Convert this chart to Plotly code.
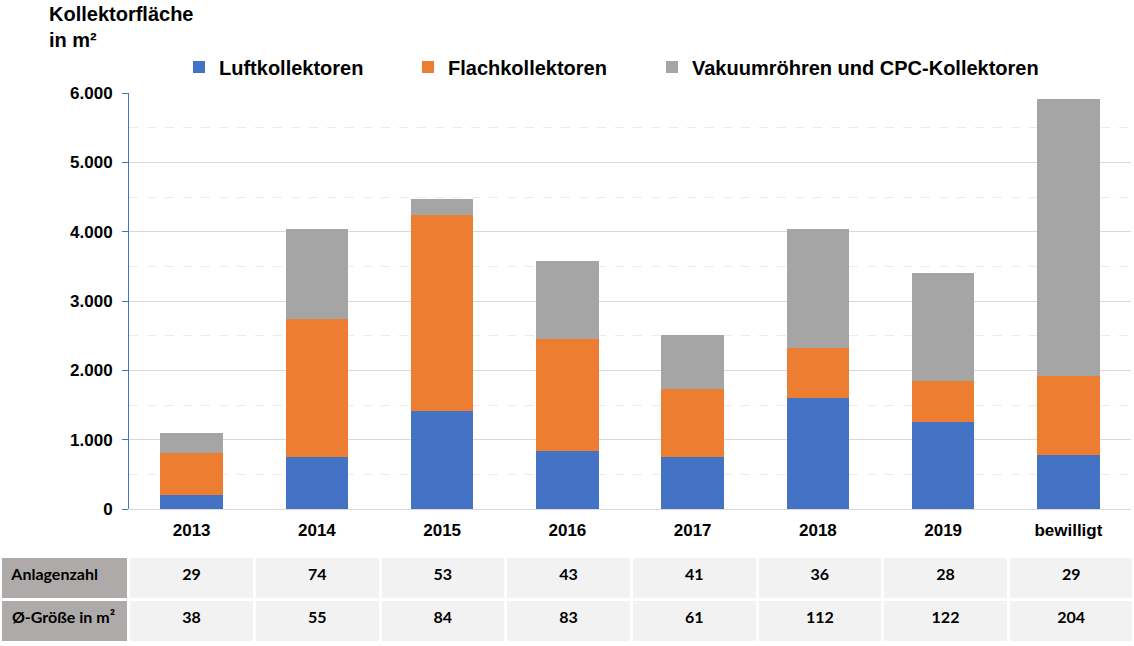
import plotly.graph_objects as go

# Daten
jahre = ["2013", "2014", "2015", "2016", "2017", "2018", "2019", "bewilligt"]
luft = [195, 745, 1410, 840, 745, 1605, 1260, 780]
flach = [615, 2000, 2825, 1615, 985, 720, 590, 1140]
vakuum = [290, 1300, 240, 1125, 785, 1715, 1560, 3995]

anlagenzahl = [29, 74, 53, 43, 41, 36, 28, 29]
groesse = [38, 55, 84, 83, 61, 112, 122, 204]
zeilen = ["Anlagenzahl", "Ø-Größe in m²"]

W, H = 1134, 646
schrift = "Liberation Sans, Arial, sans-serif"

fig = go.Figure()

# je Serie eine eigene Legende, damit die Abstände wie im Original sind
serien = [
    ("Luftkollektoren", luft, "#4472C4", "legend", 179),
    ("Flachkollektoren", flach, "#ED7D31", "legend2", 408),
    ("Vakuumröhren und CPC-Kollektoren", vakuum, "#A5A5A5", "legend3", 652),
]
for name, werte, farbe, leg, _ in serien:
    fig.add_trace(go.Bar(
        x=jahre, y=werte, name=name, legend=leg,
        marker=dict(color=farbe, line=dict(width=0)),
        hoverinfo="x+y+name",
    ))

# Tabelle unter dem Diagramm
spalten = [[f"<b>\u00a0{z}</b>" for z in zeilen]]
for a, g in zip(anlagenzahl, groesse):
    spalten.append([f"<b>{a}</b>", f"<b>{g}</b>"])

fuellung = ["#AEAAAA"] + ["#F2F2F2"] * len(jahre)
ausrichtung = ["left"] + ["center"] * len(jahre)
tab_font = dict(family="Lato, sans-serif", size=16, color="black")
fig.add_trace(go.Table(
    domain=dict(x=[0, 1], y=[3 / H, 90 / H]),
    columnwidth=[128] + [125] * len(jahre),
    header=dict(
        values=[c[0] for c in spalten],
        fill=dict(color=fuellung),
        line=dict(color="white", width=3),
        align=ausrichtung, font=tab_font, height=43,
    ),
    cells=dict(
        values=[[c[1]] for c in spalten],
        fill=dict(color=fuellung),
        line=dict(color="white", width=3),
        align=ausrichtung, font=tab_font, height=43,
    ),
))

leg_font = dict(size=20, family=schrift, color="black", weight="bold")
legenden = {}
for _, _, _, leg, xpos in serien:
    legenden[leg] = dict(
        orientation="h", x=xpos / W, y=1 - 67 / H, xanchor="left", yanchor="middle",
        xref="container", yref="container",
        font=leg_font, bgcolor="rgba(0,0,0,0)",
    )

fig.update_layout(
    width=W, height=H,
    margin=dict(l=0, r=0, t=0, b=0, pad=0, autoexpand=False),
    paper_bgcolor="white", plot_bgcolor="white",
    barmode="stack", bargap=0.5,
    separators=",.",
    font=dict(family=schrift, color="black"),
    showlegend=True,
    xaxis=dict(
        domain=[129 / W, 1131 / W], automargin=False,
        tickfont=dict(size=17, family=schrift, weight="bold"),
        showgrid=False, showline=False, ticks="", ticklabelstandoff=9,
    ),
    yaxis=dict(
        domain=[(H - 509) / H, (H - 93) / H], automargin=False,
        range=[0, 6000], dtick=1000, tickformat=",",
        tickfont=dict(size=17, family=schrift, weight="bold"),
        showgrid=True, gridcolor="#D9D9D9", gridwidth=1,
        zeroline=True, zerolinecolor="#D9D9D9", zerolinewidth=1,
        showline=True, linecolor="#4472C4", linewidth=1,
        ticks="outside", tickcolor="#4472C4", ticklen=6, ticklabelstandoff=6,
        minor=dict(dtick=500, showgrid=True, gridcolor="#EBEBEB", griddash="dash", ticks=""),
    ),
    annotations=[dict(
        text="<b>Kollektorfläche<br>in m²</b>", x=47 / W, y=1 - 1 / H,
        xref="paper", yref="paper", xanchor="left", yanchor="top",
        align="left", showarrow=False,
        font=dict(size=20, family=schrift, color="black"),
    )],
    **legenden,
)

# Grafik oben links an die Seite heften, ohne Seitenrand
seite_js = (
    "document.body.style.margin='0';"
    "var gd=document.getElementById('{plot_id}');"
    "gd.style.position='absolute';gd.style.top='0';gd.style.left='0';"
)
fig.write_html("out.html", config={"displayModeBar": False}, post_script=seite_js)
